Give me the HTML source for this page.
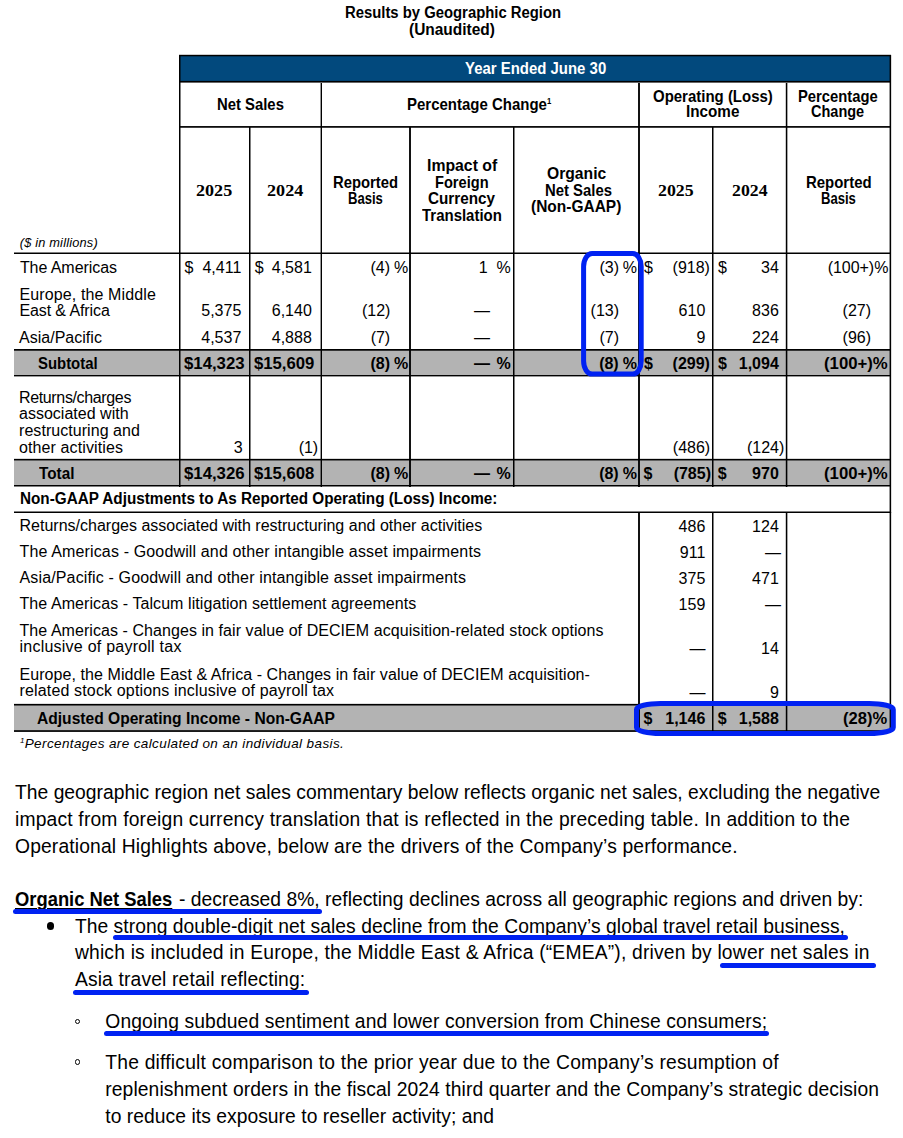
<!DOCTYPE html>
<html><head><meta charset="utf-8"><style>
html,body{margin:0;padding:0;background:#fff;}
body{width:903px;height:1138px;position:relative;overflow:hidden;font-family:'Liberation Sans', sans-serif;}
body>div{position:absolute;box-sizing:content-box;}
.t{white-space:nowrap;}
</style></head><body>
<div class="t" style="top:4.96px;font-size:16px;line-height:16px;font-family:'Liberation Sans', sans-serif;font-weight:bold;font-style:normal;color:#000;transform:scaleX(0.9277);transform-origin:0 0;left:344.8px;">Results by Geographic Region</div>
<div class="t" style="top:21.96px;font-size:16px;line-height:16px;font-family:'Liberation Sans', sans-serif;font-weight:bold;font-style:normal;color:#000;transform:scaleX(0.9665);transform-origin:0 0;left:409.1px;">(Unaudited)</div>
<div style="left:179px;top:55px;width:712.2px;height:27px;background:#02497d;"></div>
<div style="left:179px;top:54px;width:712.2px;height:1px;background:rgba(0,0,0,0.200);"></div>
<div style="left:179px;top:55px;width:712.2px;height:1px;background:rgba(0,0,0,1.000);"></div>
<div style="left:179px;top:56px;width:712.2px;height:1px;background:rgba(0,0,0,0.300);"></div>
<div style="left:179px;top:80px;width:712.2px;height:1px;background:rgba(0,0,0,0.100);"></div>
<div style="left:179px;top:81px;width:712.2px;height:1px;background:rgba(0,0,0,1.000);"></div>
<div style="left:179px;top:82px;width:712.2px;height:1px;background:rgba(0,0,0,0.600);"></div>
<div class="t" style="top:60.26px;font-size:16.5px;line-height:16.5px;font-family:'Liberation Sans', sans-serif;font-weight:bold;font-style:normal;color:#fff;transform:scaleX(0.9057);transform-origin:0 0;left:464.5px;">Year Ended June 30</div>
<div style="left:14px;top:349.85px;width:877.2px;height:25.849999999999966px;background:#b3b3b3;"></div>
<div style="left:14px;top:459.65px;width:877.2px;height:26.100000000000023px;background:#b3b3b3;"></div>
<div style="left:14px;top:704.7px;width:877.2px;height:26.34999999999991px;background:#b3b3b3;"></div>
<div style="left:179px;top:126px;width:712.2px;height:1px;background:rgba(0,0,0,0.950);"></div>
<div style="left:179px;top:127px;width:712.2px;height:1px;background:rgba(0,0,0,0.750);"></div>
<div style="left:14px;top:252px;width:877.2px;height:1px;background:rgba(0,0,0,0.500);"></div>
<div style="left:14px;top:253px;width:877.2px;height:1px;background:rgba(0,0,0,1.000);"></div>
<div style="left:14px;top:349px;width:877.2px;height:1px;background:rgba(0,0,0,1.000);"></div>
<div style="left:14px;top:350px;width:877.2px;height:1px;background:rgba(0,0,0,0.700);"></div>
<div style="left:14px;top:375px;width:877.2px;height:1px;background:rgba(0,0,0,1.000);"></div>
<div style="left:14px;top:376px;width:877.2px;height:1px;background:rgba(0,0,0,0.400);"></div>
<div style="left:14px;top:458px;width:877.2px;height:1px;background:rgba(0,0,0,0.150);"></div>
<div style="left:14px;top:459px;width:877.2px;height:1px;background:rgba(0,0,0,1.000);"></div>
<div style="left:14px;top:460px;width:877.2px;height:1px;background:rgba(0,0,0,0.450);"></div>
<div style="left:14px;top:485px;width:877.2px;height:1px;background:rgba(0,0,0,1.000);"></div>
<div style="left:14px;top:486px;width:877.2px;height:1px;background:rgba(0,0,0,0.500);"></div>
<div style="left:14px;top:511px;width:877.2px;height:1px;background:rgba(0,0,0,0.500);"></div>
<div style="left:14px;top:512px;width:877.2px;height:1px;background:rgba(0,0,0,1.000);"></div>
<div style="left:14px;top:703px;width:877.2px;height:1px;background:rgba(0,0,0,0.125);"></div>
<div style="left:14px;top:704px;width:877.2px;height:1px;background:rgba(0,0,0,1.000);"></div>
<div style="left:14px;top:705px;width:877.2px;height:1px;background:rgba(0,0,0,0.525);"></div>
<div style="left:14px;top:730px;width:877.2px;height:1px;background:rgba(0,0,0,0.800);"></div>
<div style="left:14px;top:731px;width:877.2px;height:1px;background:rgba(0,0,0,0.900);"></div>
<div style="left:179px;top:55px;width:1px;height:432px;background:rgba(0,0,0,1.000);"></div>
<div style="left:180px;top:55px;width:1px;height:432px;background:rgba(0,0,0,0.500);"></div>
<div style="left:889px;top:55px;width:1px;height:432px;background:rgba(0,0,0,0.405);"></div>
<div style="left:890px;top:55px;width:1px;height:432px;background:rgba(0,0,0,1.000);"></div>
<div style="left:891px;top:55px;width:1px;height:432px;background:rgba(0,0,0,0.145);"></div>
<div style="left:320px;top:82.6px;width:1px;height:404.4px;background:rgba(0,0,0,0.400);"></div>
<div style="left:321px;top:82.6px;width:1px;height:404.4px;background:rgba(0,0,0,1.000);"></div>
<div style="left:638px;top:82.6px;width:1px;height:404.4px;background:rgba(0,0,0,0.925);"></div>
<div style="left:639px;top:82.6px;width:1px;height:404.4px;background:rgba(0,0,0,0.925);"></div>
<div style="left:785px;top:82.6px;width:1px;height:404.4px;background:rgba(0,0,0,0.205);"></div>
<div style="left:786px;top:82.6px;width:1px;height:404.4px;background:rgba(0,0,0,1.000);"></div>
<div style="left:787px;top:82.6px;width:1px;height:404.4px;background:rgba(0,0,0,0.345);"></div>
<div style="left:249px;top:127px;width:1px;height:360px;background:rgba(0,0,0,1.000);"></div>
<div style="left:250px;top:127px;width:1px;height:360px;background:rgba(0,0,0,0.500);"></div>
<div style="left:409px;top:127px;width:1px;height:360px;background:rgba(0,0,0,0.925);"></div>
<div style="left:410px;top:127px;width:1px;height:360px;background:rgba(0,0,0,0.925);"></div>
<div style="left:513px;top:127px;width:1px;height:360px;background:rgba(0,0,0,1.000);"></div>
<div style="left:514px;top:127px;width:1px;height:360px;background:rgba(0,0,0,0.500);"></div>
<div style="left:712px;top:127px;width:1px;height:360px;background:rgba(0,0,0,1.000);"></div>
<div style="left:713px;top:127px;width:1px;height:360px;background:rgba(0,0,0,0.500);"></div>
<div style="left:889px;top:487px;width:1px;height:26px;background:rgba(0,0,0,0.405);"></div>
<div style="left:890px;top:487px;width:1px;height:26px;background:rgba(0,0,0,1.000);"></div>
<div style="left:891px;top:487px;width:1px;height:26px;background:rgba(0,0,0,0.145);"></div>
<div style="left:638px;top:512px;width:1px;height:220px;background:rgba(0,0,0,0.925);"></div>
<div style="left:639px;top:512px;width:1px;height:220px;background:rgba(0,0,0,0.925);"></div>
<div style="left:712px;top:512px;width:1px;height:220px;background:rgba(0,0,0,1.000);"></div>
<div style="left:713px;top:512px;width:1px;height:220px;background:rgba(0,0,0,0.500);"></div>
<div style="left:785px;top:512px;width:1px;height:220px;background:rgba(0,0,0,0.205);"></div>
<div style="left:786px;top:512px;width:1px;height:220px;background:rgba(0,0,0,1.000);"></div>
<div style="left:787px;top:512px;width:1px;height:220px;background:rgba(0,0,0,0.345);"></div>
<div style="left:889px;top:512px;width:1px;height:220px;background:rgba(0,0,0,0.405);"></div>
<div style="left:890px;top:512px;width:1px;height:220px;background:rgba(0,0,0,1.000);"></div>
<div style="left:891px;top:512px;width:1px;height:220px;background:rgba(0,0,0,0.145);"></div>
<div class="t" style="top:96.26px;font-size:16.5px;line-height:16.5px;font-family:'Liberation Sans', sans-serif;font-weight:bold;font-style:normal;color:#000;transform:scaleX(0.9004);transform-origin:0 0;left:216.9px;">Net Sales</div>
<div class="t" style="top:96.26px;font-size:16.5px;line-height:16.5px;font-family:'Liberation Sans', sans-serif;font-weight:bold;font-style:normal;color:#000;transform:scaleX(0.9081);transform-origin:0 0;left:407.4px;">Percentage Change<sup style="font-size:8.5px;vertical-align:6.5px;line-height:0">1</sup></div>
<div class="t" style="top:88.26px;font-size:16.5px;line-height:16.5px;font-family:'Liberation Sans', sans-serif;font-weight:bold;font-style:normal;color:#000;transform:scaleX(0.9075);transform-origin:0 0;left:652.5px;">Operating (Loss)</div>
<div class="t" style="top:103.26px;font-size:16.5px;line-height:16.5px;font-family:'Liberation Sans', sans-serif;font-weight:bold;font-style:normal;color:#000;transform:scaleX(0.9242);transform-origin:0 0;left:685.7px;">Income</div>
<div class="t" style="top:88.26px;font-size:16.5px;line-height:16.5px;font-family:'Liberation Sans', sans-serif;font-weight:bold;font-style:normal;color:#000;transform:scaleX(0.8958);transform-origin:0 0;left:798.4px;">Percentage</div>
<div class="t" style="top:103.26px;font-size:16.5px;line-height:16.5px;font-family:'Liberation Sans', sans-serif;font-weight:bold;font-style:normal;color:#000;transform:scaleX(0.8791);transform-origin:0 0;left:811.1px;">Change</div>
<div class="t" style="top:181.92px;font-size:17.5px;line-height:17.5px;font-family:'Liberation Serif', serif;font-weight:bold;font-style:normal;color:#000;transform:scaleX(1.0343);transform-origin:0 0;left:196.2px;">2025</div>
<div class="t" style="top:181.92px;font-size:17.5px;line-height:17.5px;font-family:'Liberation Serif', serif;font-weight:bold;font-style:normal;color:#000;transform:scaleX(1.0371);transform-origin:0 0;left:266.6px;">2024</div>
<div class="t" style="top:181.92px;font-size:17.5px;line-height:17.5px;font-family:'Liberation Serif', serif;font-weight:bold;font-style:normal;color:#000;transform:scaleX(1.0171);transform-origin:0 0;left:657.6px;">2025</div>
<div class="t" style="top:181.92px;font-size:17.5px;line-height:17.5px;font-family:'Liberation Serif', serif;font-weight:bold;font-style:normal;color:#000;transform:scaleX(1.0143);transform-origin:0 0;left:731.5px;">2024</div>
<div class="t" style="top:174.26px;font-size:16.5px;line-height:16.5px;font-family:'Liberation Sans', sans-serif;font-weight:bold;font-style:normal;color:#000;transform:scaleX(0.8989);transform-origin:0 0;left:332.9px;">Reported</div>
<div class="t" style="top:190.26px;font-size:16.5px;line-height:16.5px;font-family:'Liberation Sans', sans-serif;font-weight:bold;font-style:normal;color:#000;transform:scaleX(0.7926);transform-origin:0 0;left:348.3px;">Basis</div>
<div class="t" style="top:174.26px;font-size:16.5px;line-height:16.5px;font-family:'Liberation Sans', sans-serif;font-weight:bold;font-style:normal;color:#000;transform:scaleX(0.9058);transform-origin:0 0;left:805.7px;">Reported</div>
<div class="t" style="top:190.26px;font-size:16.5px;line-height:16.5px;font-family:'Liberation Sans', sans-serif;font-weight:bold;font-style:normal;color:#000;transform:scaleX(0.7926);transform-origin:0 0;left:821.3px;">Basis</div>
<div class="t" style="top:157.26px;font-size:16.5px;line-height:16.5px;font-family:'Liberation Sans', sans-serif;font-weight:bold;font-style:normal;color:#000;transform:scaleX(0.9571);transform-origin:0 0;left:427px;">Impact of</div>
<div class="t" style="top:174.26px;font-size:16.5px;line-height:16.5px;font-family:'Liberation Sans', sans-serif;font-weight:bold;font-style:normal;color:#000;transform:scaleX(0.8860);transform-origin:0 0;left:434.8px;">Foreign</div>
<div class="t" style="top:190.26px;font-size:16.5px;line-height:16.5px;font-family:'Liberation Sans', sans-serif;font-weight:bold;font-style:normal;color:#000;transform:scaleX(0.9247);transform-origin:0 0;left:428.3px;">Currency</div>
<div class="t" style="top:207.26px;font-size:16.5px;line-height:16.5px;font-family:'Liberation Sans', sans-serif;font-weight:bold;font-style:normal;color:#000;transform:scaleX(0.9076);transform-origin:0 0;left:422.2px;">Translation</div>
<div class="t" style="top:165.26px;font-size:16.5px;line-height:16.5px;font-family:'Liberation Sans', sans-serif;font-weight:bold;font-style:normal;color:#000;transform:scaleX(0.9493);transform-origin:0 0;left:546.9px;">Organic</div>
<div class="t" style="top:182.26px;font-size:16.5px;line-height:16.5px;font-family:'Liberation Sans', sans-serif;font-weight:bold;font-style:normal;color:#000;transform:scaleX(0.9018);transform-origin:0 0;left:545.2px;">Net Sales</div>
<div class="t" style="top:198.26px;font-size:16.5px;line-height:16.5px;font-family:'Liberation Sans', sans-serif;font-weight:bold;font-style:normal;color:#000;transform:scaleX(0.9383);transform-origin:0 0;left:531.1px;">(Non-GAAP)</div>
<div class="t" style="top:236.81px;font-size:12.8px;line-height:12.8px;font-family:'Liberation Sans', sans-serif;font-weight:normal;font-style:italic;color:#000;letter-spacing:0.186px;left:19.7px;">($ in millions)</div>
<div class="t" style="top:259.96px;font-size:16px;line-height:16px;font-family:'Liberation Sans', sans-serif;font-weight:normal;font-style:normal;color:#000;letter-spacing:-0.065px;left:19.9px;">The Americas</div>
<div class="t" style="top:286.96px;font-size:16px;line-height:16px;font-family:'Liberation Sans', sans-serif;font-weight:normal;font-style:normal;color:#000;letter-spacing:0.129px;left:19.4px;">Europe, the Middle</div>
<div class="t" style="top:302.96px;font-size:16px;line-height:16px;font-family:'Liberation Sans', sans-serif;font-weight:normal;font-style:normal;color:#000;letter-spacing:-0.099px;left:19.4px;">East &amp; Africa</div>
<div class="t" style="top:329.96px;font-size:16px;line-height:16px;font-family:'Liberation Sans', sans-serif;font-weight:normal;font-style:normal;color:#000;letter-spacing:0.018px;left:19.0px;">Asia/Pacific</div>
<div class="t" style="top:355.96px;font-size:16px;line-height:16px;font-family:'Liberation Sans', sans-serif;font-weight:bold;font-style:normal;color:#000;transform:scaleX(0.9313);transform-origin:0 0;left:37.9px;">Subtotal</div>
<div class="t" style="top:389.96px;font-size:16px;line-height:16px;font-family:'Liberation Sans', sans-serif;font-weight:normal;font-style:normal;color:#000;letter-spacing:-0.356px;left:19px;">Returns/charges</div>
<div class="t" style="top:405.96px;font-size:16px;line-height:16px;font-family:'Liberation Sans', sans-serif;font-weight:normal;font-style:normal;color:#000;letter-spacing:0.015px;left:19px;">associated with</div>
<div class="t" style="top:422.96px;font-size:16px;line-height:16px;font-family:'Liberation Sans', sans-serif;font-weight:normal;font-style:normal;color:#000;letter-spacing:0.052px;left:19px;">restructuring and</div>
<div class="t" style="top:439.96px;font-size:16px;line-height:16px;font-family:'Liberation Sans', sans-serif;font-weight:normal;font-style:normal;color:#000;letter-spacing:0.116px;left:19px;">other activities</div>
<div class="t" style="top:465.96px;font-size:16px;line-height:16px;font-family:'Liberation Sans', sans-serif;font-weight:bold;font-style:normal;color:#000;transform:scaleX(0.9559);transform-origin:0 0;left:38.6px;">Total</div>
<div class="t" style="top:490.96px;font-size:16px;line-height:16px;font-family:'Liberation Sans', sans-serif;font-weight:bold;font-style:normal;color:#000;transform:scaleX(0.9550);transform-origin:0 0;left:19.5px;">Non-GAAP Adjustments to As Reported Operating (Loss) Income:</div>
<div class="t" style="top:517.96px;font-size:16px;line-height:16px;font-family:'Liberation Sans', sans-serif;font-weight:normal;font-style:normal;color:#000;letter-spacing:0.004px;left:19.5px;">Returns/charges associated with restructuring and other activities</div>
<div class="t" style="top:543.96px;font-size:16px;line-height:16px;font-family:'Liberation Sans', sans-serif;font-weight:normal;font-style:normal;color:#000;letter-spacing:0.145px;left:19.5px;">The Americas - Goodwill and other intangible asset impairments</div>
<div class="t" style="top:569.96px;font-size:16px;line-height:16px;font-family:'Liberation Sans', sans-serif;font-weight:normal;font-style:normal;color:#000;letter-spacing:0.145px;left:19.5px;">Asia/Pacific - Goodwill and other intangible asset impairments</div>
<div class="t" style="top:595.96px;font-size:16px;line-height:16px;font-family:'Liberation Sans', sans-serif;font-weight:normal;font-style:normal;color:#000;letter-spacing:0.076px;left:19.5px;">The Americas - Talcum litigation settlement agreements</div>
<div class="t" style="top:622.96px;font-size:16px;line-height:16px;font-family:'Liberation Sans', sans-serif;font-weight:normal;font-style:normal;color:#000;letter-spacing:0.064px;left:19.5px;">The Americas - Changes in fair value of DECIEM acquisition-related stock options</div>
<div class="t" style="top:638.96px;font-size:16px;line-height:16px;font-family:'Liberation Sans', sans-serif;font-weight:normal;font-style:normal;color:#000;letter-spacing:0.234px;left:19.5px;">inclusive of payroll tax</div>
<div class="t" style="top:666.96px;font-size:16px;line-height:16px;font-family:'Liberation Sans', sans-serif;font-weight:normal;font-style:normal;color:#000;letter-spacing:0.073px;left:19.5px;">Europe, the Middle East &amp; Africa - Changes in fair value of DECIEM acquisition-</div>
<div class="t" style="top:682.96px;font-size:16px;line-height:16px;font-family:'Liberation Sans', sans-serif;font-weight:normal;font-style:normal;color:#000;letter-spacing:0.153px;left:19.5px;">related stock options inclusive of payroll tax</div>
<div class="t" style="top:710.96px;font-size:16px;line-height:16px;font-family:'Liberation Sans', sans-serif;font-weight:bold;font-style:normal;color:#000;transform:scaleX(0.9742);transform-origin:0 0;left:37.4px;">Adjusted Operating Income - Non-GAAP</div>
<div class="t" style="top:737.02px;font-size:13.5px;line-height:13.5px;font-family:'Liberation Sans', sans-serif;font-weight:normal;font-style:italic;color:#000;letter-spacing:0.385px;left:19.9px;"><sup style="font-size:8px;vertical-align:5px;line-height:0">1</sup>Percentages are calculated on an individual basis.</div>
<div class="t" style="top:259.96px;font-size:16px;line-height:16px;font-family:'Liberation Sans', sans-serif;font-weight:normal;font-style:normal;color:#000;left:184.6px;">$</div>
<div class="t" style="top:259.96px;font-size:16px;line-height:16px;font-family:'Liberation Sans', sans-serif;font-weight:normal;font-style:normal;color:#000;right:661.7px;text-align:right;">4,411</div>
<div class="t" style="top:259.96px;font-size:16px;line-height:16px;font-family:'Liberation Sans', sans-serif;font-weight:normal;font-style:normal;color:#000;left:254.7px;">$</div>
<div class="t" style="top:259.96px;font-size:16px;line-height:16px;font-family:'Liberation Sans', sans-serif;font-weight:normal;font-style:normal;color:#000;right:591.2px;text-align:right;">4,581</div>
<div class="t" style="top:259.96px;font-size:16px;line-height:16px;font-family:'Liberation Sans', sans-serif;font-weight:normal;font-style:normal;color:#000;right:513px;text-align:right;">(4)</div>
<div class="t" style="top:259.96px;font-size:16px;line-height:16px;font-family:'Liberation Sans', sans-serif;font-weight:normal;font-style:normal;color:#000;left:394px;">%</div>
<div class="t" style="top:259.96px;font-size:16px;line-height:16px;font-family:'Liberation Sans', sans-serif;font-weight:normal;font-style:normal;color:#000;right:415.4px;text-align:right;">1</div>
<div class="t" style="top:259.96px;font-size:16px;line-height:16px;font-family:'Liberation Sans', sans-serif;font-weight:normal;font-style:normal;color:#000;left:496.6px;">%</div>
<div class="t" style="top:259.96px;font-size:16px;line-height:16px;font-family:'Liberation Sans', sans-serif;font-weight:normal;font-style:normal;color:#000;right:284px;text-align:right;">(3)</div>
<div class="t" style="top:259.96px;font-size:16px;line-height:16px;font-family:'Liberation Sans', sans-serif;font-weight:normal;font-style:normal;color:#000;left:622.8px;">%</div>
<div class="t" style="top:259.96px;font-size:16px;line-height:16px;font-family:'Liberation Sans', sans-serif;font-weight:normal;font-style:normal;color:#000;left:644px;">$</div>
<div class="t" style="top:259.96px;font-size:16px;line-height:16px;font-family:'Liberation Sans', sans-serif;font-weight:normal;font-style:normal;color:#000;right:193.10000000000002px;text-align:right;">(918)</div>
<div class="t" style="top:259.96px;font-size:16px;line-height:16px;font-family:'Liberation Sans', sans-serif;font-weight:normal;font-style:normal;color:#000;left:718px;">$</div>
<div class="t" style="top:259.96px;font-size:16px;line-height:16px;font-family:'Liberation Sans', sans-serif;font-weight:normal;font-style:normal;color:#000;right:124.20000000000005px;text-align:right;">34</div>
<div class="t" style="top:259.96px;font-size:16px;line-height:16px;font-family:'Liberation Sans', sans-serif;font-weight:normal;font-style:normal;color:#000;letter-spacing:-0.037px;left:827.7px;">(100+)%</div>
<div class="t" style="top:302.96px;font-size:16px;line-height:16px;font-family:'Liberation Sans', sans-serif;font-weight:normal;font-style:normal;color:#000;right:661.7px;text-align:right;">5,375</div>
<div class="t" style="top:302.96px;font-size:16px;line-height:16px;font-family:'Liberation Sans', sans-serif;font-weight:normal;font-style:normal;color:#000;right:591.2px;text-align:right;">6,140</div>
<div class="t" style="top:302.96px;font-size:16px;line-height:16px;font-family:'Liberation Sans', sans-serif;font-weight:normal;font-style:normal;color:#000;right:512.6px;text-align:right;">(12)</div>
<div class="t" style="top:302.96px;font-size:16px;line-height:16px;font-family:'Liberation Sans', sans-serif;font-weight:normal;font-style:normal;color:#000;right:413px;text-align:right;">&#8212;</div>
<div class="t" style="top:302.96px;font-size:16px;line-height:16px;font-family:'Liberation Sans', sans-serif;font-weight:normal;font-style:normal;color:#000;right:284px;text-align:right;">(13)</div>
<div class="t" style="top:302.96px;font-size:16px;line-height:16px;font-family:'Liberation Sans', sans-serif;font-weight:normal;font-style:normal;color:#000;right:197.70000000000005px;text-align:right;">610</div>
<div class="t" style="top:302.96px;font-size:16px;line-height:16px;font-family:'Liberation Sans', sans-serif;font-weight:normal;font-style:normal;color:#000;right:124.20000000000005px;text-align:right;">836</div>
<div class="t" style="top:302.96px;font-size:16px;line-height:16px;font-family:'Liberation Sans', sans-serif;font-weight:normal;font-style:normal;color:#000;right:32px;text-align:right;">(27)</div>
<div class="t" style="top:329.96px;font-size:16px;line-height:16px;font-family:'Liberation Sans', sans-serif;font-weight:normal;font-style:normal;color:#000;right:661.7px;text-align:right;">4,537</div>
<div class="t" style="top:329.96px;font-size:16px;line-height:16px;font-family:'Liberation Sans', sans-serif;font-weight:normal;font-style:normal;color:#000;right:591.2px;text-align:right;">4,888</div>
<div class="t" style="top:329.96px;font-size:16px;line-height:16px;font-family:'Liberation Sans', sans-serif;font-weight:normal;font-style:normal;color:#000;right:512.8px;text-align:right;">(7)</div>
<div class="t" style="top:329.96px;font-size:16px;line-height:16px;font-family:'Liberation Sans', sans-serif;font-weight:normal;font-style:normal;color:#000;right:413px;text-align:right;">&#8212;</div>
<div class="t" style="top:329.96px;font-size:16px;line-height:16px;font-family:'Liberation Sans', sans-serif;font-weight:normal;font-style:normal;color:#000;right:284px;text-align:right;">(7)</div>
<div class="t" style="top:329.96px;font-size:16px;line-height:16px;font-family:'Liberation Sans', sans-serif;font-weight:normal;font-style:normal;color:#000;right:197.70000000000005px;text-align:right;">9</div>
<div class="t" style="top:329.96px;font-size:16px;line-height:16px;font-family:'Liberation Sans', sans-serif;font-weight:normal;font-style:normal;color:#000;right:124.20000000000005px;text-align:right;">224</div>
<div class="t" style="top:329.96px;font-size:16px;line-height:16px;font-family:'Liberation Sans', sans-serif;font-weight:normal;font-style:normal;color:#000;right:32px;text-align:right;">(96)</div>
<div class="t" style="top:355.96px;font-size:16px;line-height:16px;font-family:'Liberation Sans', sans-serif;font-weight:bold;font-style:normal;color:#000;transform:scaleX(1.0476);transform-origin:0 0;left:183.8px;">$14,323</div>
<div class="t" style="top:355.96px;font-size:16px;line-height:16px;font-family:'Liberation Sans', sans-serif;font-weight:bold;font-style:normal;color:#000;transform:scaleX(1.0425);transform-origin:0 0;left:253.9px;">$15,609</div>
<div class="t" style="top:355.96px;font-size:16px;line-height:16px;font-family:'Liberation Sans', sans-serif;font-weight:bold;font-style:normal;color:#000;right:513px;text-align:right;">(8)</div>
<div class="t" style="top:355.96px;font-size:16px;line-height:16px;font-family:'Liberation Sans', sans-serif;font-weight:bold;font-style:normal;color:#000;left:394px;">%</div>
<div class="t" style="top:355.96px;font-size:16px;line-height:16px;font-family:'Liberation Sans', sans-serif;font-weight:bold;font-style:normal;color:#000;right:413px;text-align:right;">&#8212;</div>
<div class="t" style="top:355.96px;font-size:16px;line-height:16px;font-family:'Liberation Sans', sans-serif;font-weight:bold;font-style:normal;color:#000;left:496.6px;">%</div>
<div class="t" style="top:355.96px;font-size:16px;line-height:16px;font-family:'Liberation Sans', sans-serif;font-weight:bold;font-style:normal;color:#000;right:284.29999999999995px;text-align:right;">(8)</div>
<div class="t" style="top:355.96px;font-size:16px;line-height:16px;font-family:'Liberation Sans', sans-serif;font-weight:bold;font-style:normal;color:#000;left:622.8px;">%</div>
<div class="t" style="top:355.96px;font-size:16px;line-height:16px;font-family:'Liberation Sans', sans-serif;font-weight:bold;font-style:normal;color:#000;left:644px;">$</div>
<div class="t" style="top:355.96px;font-size:16px;line-height:16px;font-family:'Liberation Sans', sans-serif;font-weight:bold;font-style:normal;color:#000;right:193.10000000000002px;text-align:right;">(299)</div>
<div class="t" style="top:355.96px;font-size:16px;line-height:16px;font-family:'Liberation Sans', sans-serif;font-weight:bold;font-style:normal;color:#000;left:718px;">$</div>
<div class="t" style="top:355.96px;font-size:16px;line-height:16px;font-family:'Liberation Sans', sans-serif;font-weight:bold;font-style:normal;color:#000;right:124.20000000000005px;text-align:right;">1,094</div>
<div class="t" style="top:355.96px;font-size:16px;line-height:16px;font-family:'Liberation Sans', sans-serif;font-weight:bold;font-style:normal;color:#000;transform:scaleX(1.0456);transform-origin:0 0;left:824px;">(100+)%</div>
<div class="t" style="top:439.96px;font-size:16px;line-height:16px;font-family:'Liberation Sans', sans-serif;font-weight:normal;font-style:normal;color:#000;right:660.4px;text-align:right;">3</div>
<div class="t" style="top:439.96px;font-size:16px;line-height:16px;font-family:'Liberation Sans', sans-serif;font-weight:normal;font-style:normal;color:#000;right:584.8px;text-align:right;">(1)</div>
<div class="t" style="top:439.96px;font-size:16px;line-height:16px;font-family:'Liberation Sans', sans-serif;font-weight:normal;font-style:normal;color:#000;right:192.79999999999995px;text-align:right;">(486)</div>
<div class="t" style="top:439.96px;font-size:16px;line-height:16px;font-family:'Liberation Sans', sans-serif;font-weight:normal;font-style:normal;color:#000;right:118.70000000000005px;text-align:right;">(124)</div>
<div class="t" style="top:465.96px;font-size:16px;line-height:16px;font-family:'Liberation Sans', sans-serif;font-weight:bold;font-style:normal;color:#000;transform:scaleX(1.0476);transform-origin:0 0;left:183.8px;">$14,326</div>
<div class="t" style="top:465.96px;font-size:16px;line-height:16px;font-family:'Liberation Sans', sans-serif;font-weight:bold;font-style:normal;color:#000;transform:scaleX(1.0425);transform-origin:0 0;left:253.9px;">$15,608</div>
<div class="t" style="top:465.96px;font-size:16px;line-height:16px;font-family:'Liberation Sans', sans-serif;font-weight:bold;font-style:normal;color:#000;right:513px;text-align:right;">(8)</div>
<div class="t" style="top:465.96px;font-size:16px;line-height:16px;font-family:'Liberation Sans', sans-serif;font-weight:bold;font-style:normal;color:#000;left:394px;">%</div>
<div class="t" style="top:465.96px;font-size:16px;line-height:16px;font-family:'Liberation Sans', sans-serif;font-weight:bold;font-style:normal;color:#000;right:413px;text-align:right;">&#8212;</div>
<div class="t" style="top:465.96px;font-size:16px;line-height:16px;font-family:'Liberation Sans', sans-serif;font-weight:bold;font-style:normal;color:#000;left:496.6px;">%</div>
<div class="t" style="top:465.96px;font-size:16px;line-height:16px;font-family:'Liberation Sans', sans-serif;font-weight:bold;font-style:normal;color:#000;right:284.29999999999995px;text-align:right;">(8)</div>
<div class="t" style="top:465.96px;font-size:16px;line-height:16px;font-family:'Liberation Sans', sans-serif;font-weight:bold;font-style:normal;color:#000;left:622.8px;">%</div>
<div class="t" style="top:465.96px;font-size:16px;line-height:16px;font-family:'Liberation Sans', sans-serif;font-weight:bold;font-style:normal;color:#000;left:643.6px;">$</div>
<div class="t" style="top:465.96px;font-size:16px;line-height:16px;font-family:'Liberation Sans', sans-serif;font-weight:bold;font-style:normal;color:#000;right:192px;text-align:right;">(785)</div>
<div class="t" style="top:465.96px;font-size:16px;line-height:16px;font-family:'Liberation Sans', sans-serif;font-weight:bold;font-style:normal;color:#000;left:717.7px;">$</div>
<div class="t" style="top:465.96px;font-size:16px;line-height:16px;font-family:'Liberation Sans', sans-serif;font-weight:bold;font-style:normal;color:#000;right:124.20000000000005px;text-align:right;">970</div>
<div class="t" style="top:465.96px;font-size:16px;line-height:16px;font-family:'Liberation Sans', sans-serif;font-weight:bold;font-style:normal;color:#000;transform:scaleX(1.0456);transform-origin:0 0;left:823.5px;">(100+)%</div>
<div class="t" style="top:518.96px;font-size:16px;line-height:16px;font-family:'Liberation Sans', sans-serif;font-weight:normal;font-style:normal;color:#000;right:197.70000000000005px;text-align:right;">486</div>
<div class="t" style="top:518.96px;font-size:16px;line-height:16px;font-family:'Liberation Sans', sans-serif;font-weight:normal;font-style:normal;color:#000;right:124.20000000000005px;text-align:right;">124</div>
<div class="t" style="top:544.96px;font-size:16px;line-height:16px;font-family:'Liberation Sans', sans-serif;font-weight:normal;font-style:normal;color:#000;right:197.70000000000005px;text-align:right;">911</div>
<div class="t" style="top:544.96px;font-size:16px;line-height:16px;font-family:'Liberation Sans', sans-serif;font-weight:normal;font-style:normal;color:#000;right:122px;text-align:right;">&#8212;</div>
<div class="t" style="top:570.96px;font-size:16px;line-height:16px;font-family:'Liberation Sans', sans-serif;font-weight:normal;font-style:normal;color:#000;right:197.70000000000005px;text-align:right;">375</div>
<div class="t" style="top:570.96px;font-size:16px;line-height:16px;font-family:'Liberation Sans', sans-serif;font-weight:normal;font-style:normal;color:#000;right:124.20000000000005px;text-align:right;">471</div>
<div class="t" style="top:596.96px;font-size:16px;line-height:16px;font-family:'Liberation Sans', sans-serif;font-weight:normal;font-style:normal;color:#000;right:197.70000000000005px;text-align:right;">159</div>
<div class="t" style="top:596.96px;font-size:16px;line-height:16px;font-family:'Liberation Sans', sans-serif;font-weight:normal;font-style:normal;color:#000;right:122px;text-align:right;">&#8212;</div>
<div class="t" style="top:640.96px;font-size:16px;line-height:16px;font-family:'Liberation Sans', sans-serif;font-weight:normal;font-style:normal;color:#000;right:197.39999999999998px;text-align:right;">&#8212;</div>
<div class="t" style="top:640.96px;font-size:16px;line-height:16px;font-family:'Liberation Sans', sans-serif;font-weight:normal;font-style:normal;color:#000;right:124.20000000000005px;text-align:right;">14</div>
<div class="t" style="top:684.96px;font-size:16px;line-height:16px;font-family:'Liberation Sans', sans-serif;font-weight:normal;font-style:normal;color:#000;right:197.39999999999998px;text-align:right;">&#8212;</div>
<div class="t" style="top:684.96px;font-size:16px;line-height:16px;font-family:'Liberation Sans', sans-serif;font-weight:normal;font-style:normal;color:#000;right:124.20000000000005px;text-align:right;">9</div>
<div class="t" style="top:710.96px;font-size:16px;line-height:16px;font-family:'Liberation Sans', sans-serif;font-weight:bold;font-style:normal;color:#000;left:643.6px;">$</div>
<div class="t" style="top:710.96px;font-size:16px;line-height:16px;font-family:'Liberation Sans', sans-serif;font-weight:bold;font-style:normal;color:#000;right:197.70000000000005px;text-align:right;">1,146</div>
<div class="t" style="top:710.96px;font-size:16px;line-height:16px;font-family:'Liberation Sans', sans-serif;font-weight:bold;font-style:normal;color:#000;left:717.7px;">$</div>
<div class="t" style="top:710.96px;font-size:16px;line-height:16px;font-family:'Liberation Sans', sans-serif;font-weight:bold;font-style:normal;color:#000;right:124.20000000000005px;text-align:right;">1,588</div>
<div class="t" style="top:710.96px;font-size:16px;line-height:16px;font-family:'Liberation Sans', sans-serif;font-weight:bold;font-style:normal;color:#000;transform:scaleX(1.0331);transform-origin:0 0;left:843.1px;">(28)%</div>
<div class="t" style="top:783.06px;font-size:19.3px;line-height:19.3px;font-family:'Liberation Sans', sans-serif;font-weight:normal;font-style:normal;color:#000;letter-spacing:0.014px;left:15px;">The geographic region net sales commentary below reflects organic net sales, excluding the negative</div>
<div class="t" style="top:810.06px;font-size:19.3px;line-height:19.3px;font-family:'Liberation Sans', sans-serif;font-weight:normal;font-style:normal;color:#000;letter-spacing:0.172px;left:15px;">impact from foreign currency translation that is reflected in the preceding table. In addition to the</div>
<div class="t" style="top:837.06px;font-size:19.3px;line-height:19.3px;font-family:'Liberation Sans', sans-serif;font-weight:normal;font-style:normal;color:#000;letter-spacing:0.141px;left:15px;">Operational Highlights above, below are the drivers of the Company&#8217;s performance.</div>
<div class="t" style="top:890.06px;font-size:19.3px;line-height:19.3px;font-family:'Liberation Sans', sans-serif;font-weight:bold;font-style:normal;color:#000;transform:scaleX(0.9532);transform-origin:0 0;left:15px;"><span style="text-decoration:underline;text-decoration-thickness:1.2px;text-underline-offset:2px">Organic Net Sales</span></div>
<div class="t" style="top:890.06px;font-size:19.3px;line-height:19.3px;font-family:'Liberation Sans', sans-serif;font-weight:normal;font-style:normal;color:#000;letter-spacing:0.021px;left:179px;">- decreased 8%, reflecting declines across all geographic regions and driven by:</div>
<div class="t" style="top:917.06px;font-size:19.3px;line-height:19.3px;font-family:'Liberation Sans', sans-serif;font-weight:normal;font-style:normal;color:#000;letter-spacing:0.034px;left:74.9px;">The strong double-digit net sales decline from the Company&#8217;s global travel retail business,</div>
<div class="t" style="top:943.06px;font-size:19.3px;line-height:19.3px;font-family:'Liberation Sans', sans-serif;font-weight:normal;font-style:normal;color:#000;letter-spacing:0.182px;left:74.9px;">which is included in Europe, the Middle East &amp; Africa (&#8220;EMEA&#8221;), driven by lower net sales in</div>
<div class="t" style="top:970.06px;font-size:19.3px;line-height:19.3px;font-family:'Liberation Sans', sans-serif;font-weight:normal;font-style:normal;color:#000;letter-spacing:0.144px;left:74.9px;">Asia travel retail reflecting:</div>
<div class="t" style="top:1012.06px;font-size:19.3px;line-height:19.3px;font-family:'Liberation Sans', sans-serif;font-weight:normal;font-style:normal;color:#000;letter-spacing:0.115px;left:105.3px;">Ongoing subdued sentiment and lower conversion from Chinese consumers;</div>
<div class="t" style="top:1053.06px;font-size:19.3px;line-height:19.3px;font-family:'Liberation Sans', sans-serif;font-weight:normal;font-style:normal;color:#000;letter-spacing:0.196px;left:105.3px;">The difficult comparison to the prior year due to the Company&#8217;s resumption of</div>
<div class="t" style="top:1080.06px;font-size:19.3px;line-height:19.3px;font-family:'Liberation Sans', sans-serif;font-weight:normal;font-style:normal;color:#000;letter-spacing:0.087px;left:105.3px;">replenishment orders in the fiscal 2024 third quarter and the Company&#8217;s strategic decision</div>
<div class="t" style="top:1107.06px;font-size:19.3px;line-height:19.3px;font-family:'Liberation Sans', sans-serif;font-weight:normal;font-style:normal;color:#000;letter-spacing:0.038px;left:105.3px;">to reduce its exposure to reseller activity; and</div>
<div style="left:46.8px;top:922.4px;width:7.6px;height:7.6px;background:#000;border-radius:50%;"></div>
<div style="left:75px;top:1018.6px;width:3.4px;height:3.4px;border:1px solid #000;border-radius:50%;"></div>
<div style="left:75px;top:1059.3px;width:3.4px;height:3.4px;border:1px solid #000;border-radius:50%;"></div>
<div style="left:13px;top:909px;width:309px;height:5px;background:#0022f2;border-radius:2.5px;"></div>
<div style="left:112.6px;top:935px;width:735.4px;height:5px;background:#0022f2;border-radius:2.5px;"></div>
<div style="left:720px;top:963px;width:156px;height:5px;background:#0022f2;border-radius:2.5px;"></div>
<div style="left:73px;top:990px;width:236px;height:5px;background:#0022f2;border-radius:2.5px;"></div>
<div style="left:104px;top:1031px;width:665px;height:5px;background:#0022f2;border-radius:2.5px;"></div>
<svg style="position:absolute;left:0;top:0" width="903" height="1138" viewBox="0 0 903 1138">
<rect x="583.6" y="253.5" width="57.6" height="120.6" rx="8.5" ry="13" fill="none" stroke="#0022f2" stroke-width="5"/>
<rect x="636.5" y="703.5" width="256.8" height="30" rx="24" ry="6" fill="none" stroke="#0022f2" stroke-width="5"/>
</svg>
</body></html>
